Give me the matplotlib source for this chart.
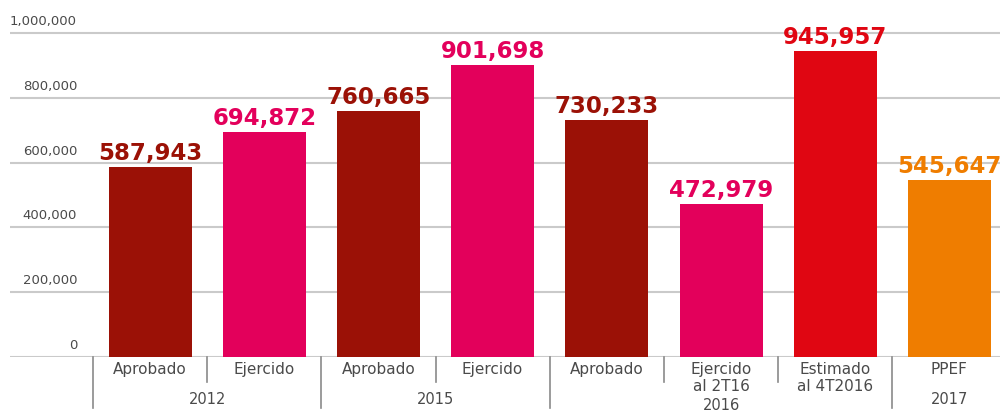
import matplotlib
matplotlib.use('Agg')
import matplotlib.pyplot as plt
import matplotlib.transforms as mtransforms

# ── Data ──────────────────────────────────────────────────────
categories = ['Aprobado', 'Ejercido', 'Aprobado', 'Ejercido', 'Aprobado',
              'Ejercido\nal 2T16', 'Estimado\nal 4T2016', 'PPEF']
values = [587943, 694872, 760665, 901698, 730233, 472979, 945957, 545647]
groups = ['2012', '2015', '2016', '2017']
group_span = [(0, 1), (2, 3), (4, 6), (7, 7)]
yticks = [0, 200000, 400000, 600000, 800000, 1000000]

# ── Style ─────────────────────────────────────────────────────
DARK = '#9B1106'
PINK = '#E3005B'
RED = '#E00612'
ORANGE = '#EF7D00'
bar_colors = [DARK, PINK, DARK, PINK, DARK, PINK, RED, ORANGE]
GRID = '#cacaca'
SEP = '#8a8a8a'
TXT = '#4a4a4a'

W, H = 1000, 412
fig = plt.figure(figsize=(W / 100, H / 100), dpi=100, facecolor='white')
ax = fig.add_axes([10 / W, (H - 357) / H, 1 - 10 / W, 357 / H])

step = 114.2
x0 = 150
ax.set_xlim((10 - x0) / step, (W - x0) / step)
ax.set_ylim(0, 357 / 324 * 1e6)
for s in ax.spines.values():
    s.set_visible(False)
ax.set_xticks([])
ax.set_yticks([])

# gridlines + tick labels
for t in yticks:
    ax.axhline(t, color=GRID, lw=1.5, zorder=0)
    ax.annotate(f'{t:,}', xy=((77 - x0) / step, t), xytext=(0, 5),
                textcoords='offset pixels', ha='right', va='bottom',
                fontsize=9.5, color=TXT)

xs = list(range(len(values)))
bars = ax.bar(xs, values, width=83 / step, color=bar_colors, zorder=2)

for x, v, c in zip(xs, values, bar_colors):
    ax.annotate(f'{v:,}', xy=(x, v), xytext=(0, 7), textcoords='offset pixels',
                ha='center', va='baseline', fontsize=16.5, fontweight='bold',
                color=c, annotation_clip=False)

# category axis below
trans = mtransforms.blended_transform_factory(ax.transData, ax.transAxes)
px = 1 / 357
long_sep = [-0.5] + [g[1] + 0.5 for g in group_span]
for b in [i - 0.5 for i in range(len(values) + 1)]:
    depth = 51 if b in long_sep else 25
    ax.plot([b, b], [0, -depth * px], color=SEP, lw=1.2, transform=trans,
            clip_on=False)

for x, cat in zip(xs, categories):
    ax.text(x, -5 * px, cat, transform=trans, ha='center', va='top',
            fontsize=11, color=TXT, linespacing=1.2)

for g, (a, b) in zip(groups, group_span):
    two_line = any('\n' in categories[i] for i in range(a, b + 1))
    y = -(48 if two_line else 43) * px
    ax.text((a + b) / 2, y, g, transform=trans, ha='center', va='center',
            fontsize=10.5, color=TXT)

fig.savefig('out.png', dpi=100, facecolor='white')
